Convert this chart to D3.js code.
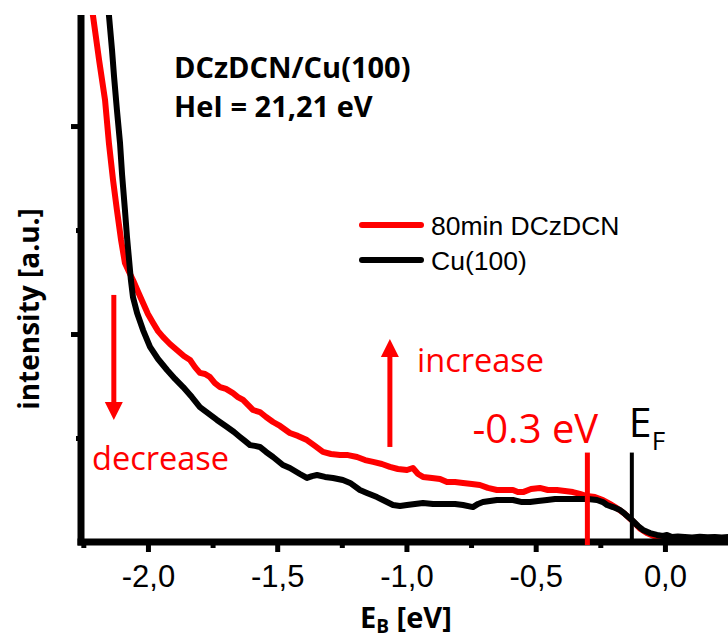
<!DOCTYPE html>
<html>
<head>
<meta charset="utf-8">
<script src="https://cdn.jsdelivr.net/npm/d3@7"></script>
<style>
  html, body { margin: 0; padding: 0; background: #fff; }
  svg { display: block; }
</style>
</head>
<body>
<svg id="chart" width="728" height="639"></svg>
<script>
// UPS spectra near the Fermi edge: binding energy (eV) vs. intensity (a.u.)
const moleculeE = [-2.213,-2.189,-2.166,-2.151,-2.135,-2.120,-2.104,-2.089,-2.073,-2.058,-2.038,-2.019,-2.000,-1.980,-1.961,-1.942,-1.915,-1.888,-1.861,-1.837,-1.818,-1.799,-1.779,-1.760,-1.741,-1.721,-1.698,-1.671,-1.652,-1.632,-1.613,-1.594,-1.567,-1.543,-1.516,-1.489,-1.451,-1.420,-1.385,-1.354,-1.323,-1.292,-1.257,-1.226,-1.191,-1.160,-1.129,-1.095,-1.064,-1.033,-0.998,-0.975,-0.955,-0.936,-0.901,-0.870,-0.843,-0.812,-0.781,-0.747,-0.716,-0.685,-0.650,-0.619,-0.588,-0.569,-0.549,-0.518,-0.484,-0.453,-0.418,-0.387,-0.356,-0.329,-0.302,-0.271,-0.240,-0.213,-0.186,-0.155,-0.124,-0.097,-0.070,-0.039,-0.019,0.008,0.027];
const moleculeI = [2.534,2.317,2.125,1.918,1.740,1.596,1.452,1.341,1.298,1.260,1.202,1.149,1.096,1.053,1.014,0.986,0.952,0.923,0.894,0.875,0.841,0.813,0.808,0.793,0.764,0.745,0.736,0.716,0.697,0.683,0.659,0.635,0.625,0.601,0.577,0.558,0.524,0.510,0.490,0.462,0.433,0.423,0.418,0.418,0.409,0.394,0.385,0.375,0.361,0.351,0.346,0.356,0.327,0.313,0.308,0.303,0.288,0.288,0.284,0.279,0.274,0.260,0.250,0.250,0.250,0.240,0.240,0.255,0.260,0.250,0.250,0.245,0.240,0.231,0.221,0.216,0.202,0.183,0.163,0.135,0.100,0.065,0.043,0.026,0.020,0.017,0.019];

const cleanE = [-2.151,-2.139,-2.131,-2.120,-2.108,-2.100,-2.089,-2.081,-2.073,-2.066,-2.058,-2.042,-2.019,-1.992,-1.961,-1.926,-1.895,-1.864,-1.830,-1.799,-1.768,-1.733,-1.694,-1.667,-1.644,-1.625,-1.605,-1.586,-1.567,-1.543,-1.516,-1.478,-1.451,-1.412,-1.385,-1.365,-1.346,-1.315,-1.284,-1.246,-1.218,-1.180,-1.153,-1.114,-1.091,-1.052,-1.025,-0.998,-0.967,-0.936,-0.897,-0.851,-0.812,-0.781,-0.743,-0.723,-0.704,-0.677,-0.650,-0.619,-0.588,-0.553,-0.522,-0.491,-0.456,-0.425,-0.395,-0.360,-0.329,-0.298,-0.263,-0.240,-0.224,-0.201,-0.174,-0.155,-0.128,-0.104,-0.085,-0.058,-0.031,-0.008,0.008,0.027,0.050,0.077,0.105,0.135,0.165,0.193,0.220,0.250];
const cleanI = [2.534,2.366,2.236,2.077,1.918,1.765,1.596,1.466,1.356,1.260,1.178,1.101,1.019,0.938,0.880,0.827,0.784,0.745,0.697,0.649,0.620,0.587,0.553,0.529,0.505,0.486,0.466,0.462,0.457,0.433,0.409,0.370,0.356,0.327,0.308,0.317,0.322,0.313,0.308,0.298,0.284,0.250,0.236,0.216,0.202,0.178,0.173,0.178,0.183,0.188,0.183,0.183,0.183,0.178,0.168,0.183,0.192,0.197,0.202,0.202,0.202,0.192,0.192,0.197,0.202,0.207,0.207,0.207,0.207,0.207,0.202,0.192,0.178,0.168,0.154,0.135,0.106,0.077,0.058,0.043,0.034,0.029,0.034,0.024,0.026,0.024,0.022,0.025,0.023,0.024,0.022,0.024];

const seriesNames = ["80min DCzDCN", "Cu(100)"];
const seriesColors = ["#ff0000", "#000000"];

const xMajorTicks = [-2.0, -1.5, -1.0, -0.5, 0.0];
const xMinorTicks = [-2.25, -1.75, -1.25, -0.75, -0.25];
const yMajorTicks = [1, 2];
const yMinorTicks = [0.5, 1.5];

const shiftE = -0.3;     // onset shift of the molecular layer
const fermiE = -0.128;   // Fermi edge position

const svg = d3.select("#chart");
const plotLeft = 81, plotRight = 728, plotTop = 15, plotBottom = 542;

const x = d3.scaleLinear().domain([-2.259, 0.244]).range([plotLeft, plotRight]);
const y = d3.scaleLinear().domain([0, 2.534]).range([plotBottom, plotTop]);

const locale = d3.formatLocale({decimal: ",", thousands: ".", grouping: [3], currency: ["", ""], minus: "-"});
const fmt = locale.format(".1f");

svg.append("defs").append("clipPath").attr("id", "plot")
  .append("rect").attr("x", plotLeft).attr("y", plotTop)
  .attr("width", plotRight - plotLeft).attr("height", plotBottom - plotTop);

// spectra
const line = d3.line().x(d => x(d[0])).y(d => y(d[1]));
const moleculeData = moleculeE.map((e, i) => [e, moleculeI[i]]);
const cleanData = cleanE.map((e, i) => [e, cleanI[i]]);

const plot = svg.append("g").attr("clip-path", "url(#plot)");
plot.append("path").datum(moleculeData).attr("d", line)
  .attr("fill", "none").attr("stroke", seriesColors[0]).attr("stroke-width", 6)
  .attr("stroke-linejoin", "round").attr("stroke-linecap", "round");
plot.append("path").datum(cleanData).attr("d", line)
  .attr("fill", "none").attr("stroke", seriesColors[1]).attr("stroke-width", 6)
  .attr("stroke-linejoin", "round").attr("stroke-linecap", "round");

// axes
const tickFont = "'Liberation Sans', Arial, sans-serif";
function styleAxis(g, w) {
  g.select(".domain").remove();
  g.selectAll(".tick line").attr("stroke", "#000").attr("stroke-width", w);
  g.selectAll(".tick text").attr("fill", "#000").style("font-family", tickFont).style("font-size", "31px");
}
svg.append("g").attr("transform", `translate(0,${plotBottom})`)
  .call(d3.axisBottom(x).tickValues(xMinorTicks).tickSize(6).tickFormat(""))
  .call(g => styleAxis(g, 5));
svg.append("g").attr("transform", `translate(0,${plotBottom})`)
  .call(d3.axisBottom(x).tickValues(xMajorTicks).tickSize(10).tickPadding(13).tickFormat(fmt))
  .call(g => styleAxis(g, 5));
svg.append("g").attr("transform", `translate(${plotLeft},0)`)
  .call(d3.axisLeft(y).tickValues(yMinorTicks).tickSize(5).tickFormat(""))
  .call(g => styleAxis(g, 5));
svg.append("g").attr("transform", `translate(${plotLeft},0)`)
  .call(d3.axisLeft(y).tickValues(yMajorTicks).tickSize(10).tickFormat(""))
  .call(g => styleAxis(g, 5));

svg.append("line").attr("x1", plotLeft).attr("x2", plotLeft).attr("y1", plotTop).attr("y2", plotBottom + 3.5)
  .attr("stroke", "#000").attr("stroke-width", 7);
svg.append("line").attr("x1", plotLeft - 3.5).attr("x2", plotRight).attr("y1", plotBottom).attr("y2", plotBottom)
  .attr("stroke", "#000").attr("stroke-width", 7);

// axis titles
const boldFont = "'Open Sans', 'Noto Sans', sans-serif";
const xTitle = svg.append("text").attr("x", 360).attr("y", 628)
  .style("font-family", boldFont).style("font-weight", 700).style("font-size", "29px").attr("fill", "#000");
xTitle.append("tspan").text("E");
xTitle.append("tspan").attr("dy", 5).style("font-size", "19px").text("B");
xTitle.append("tspan").attr("dy", -5).text(" [eV]");

svg.append("text").attr("transform", "translate(39,309) rotate(-90)")
  .attr("text-anchor", "middle")
  .style("font-family", boldFont).style("font-weight", 700).style("font-size", "28px")
  .attr("fill", "#000").text("intensity [a.u.]");

// sample description
svg.append("text").attr("x", 174).attr("y", 78)
  .style("font-family", boldFont).style("font-weight", 700).style("font-size", "29px")
  .text("DCzDCN/Cu(100)");
svg.append("text").attr("x", 174).attr("y", 117)
  .style("font-family", boldFont).style("font-weight", 700).style("font-size", "29px")
  .text("HeI = 21,21 eV");

// legend
const legend = svg.append("g");
seriesNames.forEach((name, i) => {
  const ly = 225 + i * 35;
  legend.append("line").attr("x1", 362).attr("x2", 421).attr("y1", ly).attr("y2", ly)
    .attr("stroke", seriesColors[i]).attr("stroke-width", 6).attr("stroke-linecap", "round");
  legend.append("text").attr("x", 431).attr("y", ly + 10)
    .style("font-family", tickFont).style("font-size", "26.5px").attr("fill", "#000").text(name);
});

// shift and Fermi level markers
const markTop = 0.43;
svg.append("line").attr("x1", x(shiftE)).attr("x2", x(shiftE)).attr("y1", y(markTop)).attr("y2", plotBottom + 3)
  .attr("stroke", "#ff0000").attr("stroke-width", 5);
svg.append("line").attr("x1", x(fermiE)).attr("x2", x(fermiE)).attr("y1", y(markTop)).attr("y2", plotBottom)
  .attr("stroke", "#000").attr("stroke-width", 4);

const noteFont = "'Open Sans', 'Noto Sans', sans-serif";
svg.append("text").attr("x", x(shiftE) - 115).attr("y", 443)
  .style("font-family", noteFont).style("font-size", "40px").attr("fill", "#ff0000")
  .text(shiftE.toFixed(1) + " eV");
const ef = svg.append("text").attr("x", x(fermiE) - 3).attr("y", 437)
  .style("font-family", noteFont).style("font-size", "41px").attr("fill", "#000");
ef.append("tspan").text("E");
ef.append("tspan").attr("dy", 13).style("font-size", "26px").text("F");

// intensity change arrows
function arrow(e, v0, v1) {
  const ax = x(e), y0 = y(v0), y1 = y(v1);
  const dir = y1 > y0 ? 1 : -1;
  svg.append("line").attr("x1", ax).attr("x2", ax).attr("y1", y0).attr("y2", y1 - dir * 16)
    .attr("stroke", "#ff0000").attr("stroke-width", 5);
  svg.append("path")
    .attr("d", `M${ax - 9},${y1 - dir * 18} L${ax + 9},${y1 - dir * 18} L${ax},${y1} Z`)
    .attr("fill", "#ff0000");
}
arrow(-2.132, 1.188, 0.587);
arrow(-1.064, 0.457, 0.976);

svg.append("text").attr("x", 92).attr("y", 470)
  .style("font-family", noteFont).style("font-size", "32.5px").attr("fill", "#ff0000").text("decrease");
svg.append("text").attr("x", 417).attr("y", 372)
  .style("font-family", noteFont).style("font-size", "32.5px").attr("fill", "#ff0000").text("increase");
</script>
</body>
</html>
